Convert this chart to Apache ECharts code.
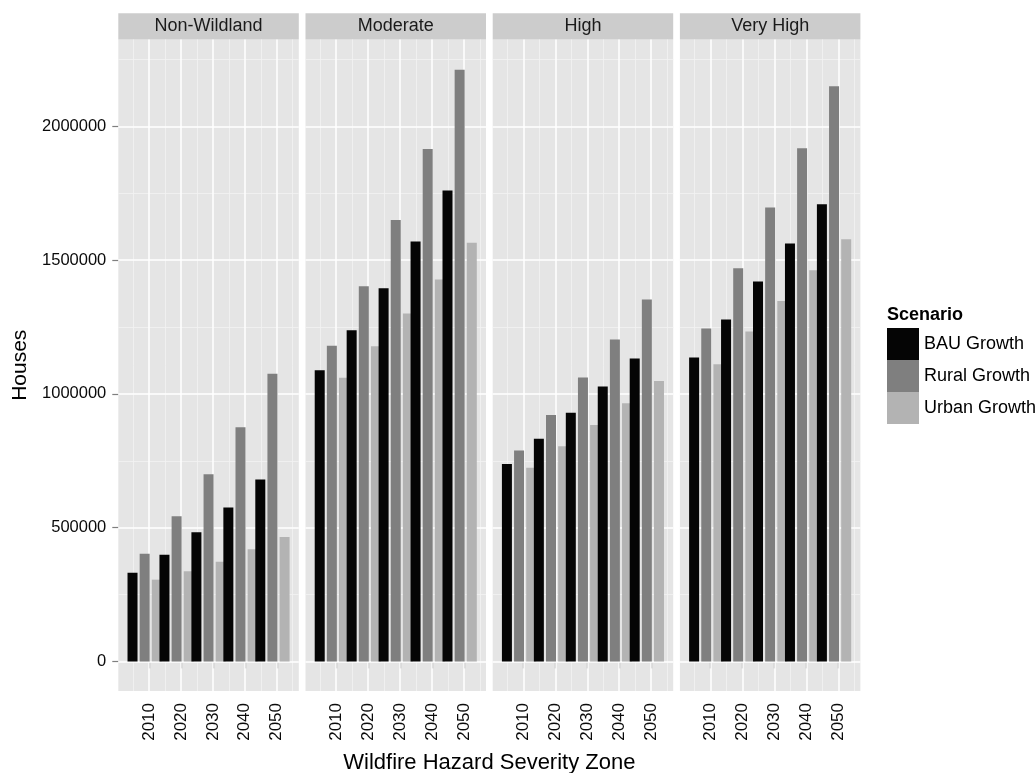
<!DOCTYPE html>
<html>
<head>
<meta charset="utf-8">
<script src="https://cdn.jsdelivr.net/npm/echarts@6/dist/echarts.min.js"></script>
<style>html,body{margin:0;padding:0;background:#fff;}#chart{width:1036px;height:773px;}</style>
</head>
<body>
<div id="chart"></div>
<script>
// ---- data ----
const years = [2010, 2020, 2030, 2040, 2050];
const zones = ['Non-Wildland', 'Moderate', 'High', 'Very High'];
const scenarios = ['BAU Growth', 'Rural Growth', 'Urban Growth'];
// values per zone (rows: Non-Wildland, Moderate, High, Very High), columns: years
const bauGrowth = [
  [331700, 399000, 482400, 574800, 679500],
  [1088000, 1238000, 1395000, 1570000, 1760000],
  [737800, 832700, 929900, 1027200, 1131900],
  [1135600, 1277700, 1419800, 1561900, 1709000]
];
const ruralGrowth = [
  [402800, 542300, 699300, 875100, 1075000],
  [1180000, 1402000, 1650000, 1915000, 2212000],
  [787900, 921200, 1060800, 1202900, 1352600],
  [1244000, 1469700, 1696600, 1918500, 2150000]
];
const urbanGrowth = [
  [305500, 336600, 372800, 418800, 464900],
  [1060000, 1178000, 1300000, 1428000, 1565000],
  [724300, 804000, 883800, 964800, 1048400],
  [1110700, 1232800, 1347600, 1462200, 1578100]
];
const yTicks = [0, 500000, 1000000, 1500000, 2000000];
const yMinorTicks = [250000, 750000, 1250000, 1750000, 2250000];
const xMinorTicks = [2005, 2015, 2025, 2035, 2045, 2055];

// ---- layout / style ----
const FONT = '"Liberation Sans", Arial, Helvetica, sans-serif';
const PANEL_LEFT0 = 118.3, PANEL_STEP = 187.2, PANEL_W = 180.5;
const PANEL_TOP = 39.5, PANEL_BOTTOM = 691;
const STRIP_TOP = 13.3, STRIP_H = 26.2;
const X_MIN = 2000.4, X_MAX = 2056.9;
const Y_MIN = -110700, Y_MAX = 2324700;
const OFFSETS = [-5.15, -1.35, 2.45];          // dodge offsets (years) BAU, Rural, Urban
const COLORS = ['#050505', '#7f7f7f', '#b3b3b3'];
const seriesValues = [bauGrowth, ruralGrowth, urbanGrowth];

const grids = [], xAxes = [], yAxes = [], series = [], graphics = [];

zones.forEach((zone, i) => {
  const left = PANEL_LEFT0 + i * PANEL_STEP;
  grids.push({
    left: left, top: PANEL_TOP, width: PANEL_W, height: PANEL_BOTTOM - PANEL_TOP,
    show: true, backgroundColor: '#E5E5E5', borderWidth: 0
  });
  xAxes.push({
    type: 'value', gridIndex: i, min: X_MIN, max: X_MAX,
    axisLine: { show: false },
    splitLine: { show: false },
    axisTick: { show: true, customValues: years, length: 7, lineStyle: { color: '#7f7f7f', width: 1.2 } },
    axisLabel: { show: true, customValues: years, rotate: 90, margin: 12, fontSize: 17,
                 color: '#0a0a0a', fontFamily: FONT, formatter: v => String(v) }
  });
  yAxes.push({
    type: 'value', gridIndex: i, min: Y_MIN, max: Y_MAX,
    axisLine: { show: false },
    splitLine: { show: false },
    axisTick: { show: i === 0, customValues: yTicks, length: 6, lineStyle: { color: '#7f7f7f', width: 1.2 } },
    axisLabel: { show: i === 0, customValues: yTicks, margin: 12, fontSize: 16.5,
                 color: '#0a0a0a', fontFamily: FONT, formatter: v => String(v) },
    name: i === 0 ? 'Houses' : '',
    nameLocation: 'middle', nameGap: 88, nameRotate: 90,
    nameTextStyle: { fontSize: 21, color: '#000', fontFamily: FONT }
  });

  // grid lines (drawn under the bars)
  const major = { type: 'solid', color: '#FFFFFF', width: 1.5 };
  const minor = { type: 'solid', color: '#F2F2F2', width: 0.8 };
  const mlData = []
    .concat(xMinorTicks.map(v => ({ xAxis: v, lineStyle: minor })))
    .concat(yMinorTicks.map(v => ({ yAxis: v, lineStyle: minor })))
    .concat(years.map(v => ({ xAxis: v, lineStyle: major })))
    .concat(yTicks.map(v => ({ yAxis: v, lineStyle: major })));
  series.push({
    type: 'line', name: '_grid' + i, xAxisIndex: i, yAxisIndex: i, data: [], z: 1,
    silent: true, animation: false,
    markLine: { silent: true, animation: false, z: 1, symbol: ['none', 'none'],
                label: { show: false }, emphasis: { disabled: true }, data: mlData }
  });

  // bars: Urban first, Rural, BAU on top
  [2, 1, 0].forEach(s => {
    series.push({
      type: 'bar', name: scenarios[s], xAxisIndex: i, yAxisIndex: i, z: 2,
      barWidth: 10, barGap: '-100%', animation: false,
      itemStyle: { color: COLORS[s], borderWidth: 0 },
      emphasis: { disabled: true },
      data: years.map((y, k) => [y + OFFSETS[s], seriesValues[s][i][k]])
    });
  });

  // facet strip
  graphics.push({
    type: 'rect', left: left, top: STRIP_TOP, silent: true,
    shape: { width: PANEL_W, height: STRIP_H }, style: { fill: '#CCCCCC' }
  });
  graphics.push({
    type: 'text', x: left + PANEL_W / 2, y: STRIP_TOP + STRIP_H / 2, silent: true,
    style: { text: zone, fill: '#1a1a1a', font: '18px ' + FONT, textAlign: 'center', textVerticalAlign: 'middle' }
  });
});

const plotCenter = (PANEL_LEFT0 + PANEL_LEFT0 + 3 * PANEL_STEP + PANEL_W) / 2;
graphics.push({
  type: 'text', x: plotCenter, y: 763, silent: true,
  style: { text: 'Wildfire Hazard Severity Zone', fill: '#000', font: '22px ' + FONT,
           textAlign: 'center', textVerticalAlign: 'middle' }
});
graphics.push({
  type: 'text', x: 887, y: 315, silent: true,
  style: { text: 'Scenario', fill: '#000', font: 'bold 18px ' + FONT,
           textAlign: 'left', textVerticalAlign: 'middle' }
});

const chart = echarts.init(document.getElementById('chart'), null, { renderer: 'canvas' });
chart.setOption({
  backgroundColor: '#FFFFFF',
  animation: false,
  textStyle: { fontFamily: FONT },
  grid: grids,
  xAxis: xAxes,
  yAxis: yAxes,
  legend: {
    data: scenarios, left: 887, top: 328, orient: 'vertical',
    itemWidth: 32, itemHeight: 32, itemGap: 0, icon: 'rect', selectedMode: false,
    padding: 0, itemStyle: { borderWidth: 0 },
    textStyle: { fontSize: 18, color: '#000', fontFamily: FONT }
  },
  tooltip: { show: false },
  series: series,
  graphic: graphics
});
</script>
</body>
</html>
